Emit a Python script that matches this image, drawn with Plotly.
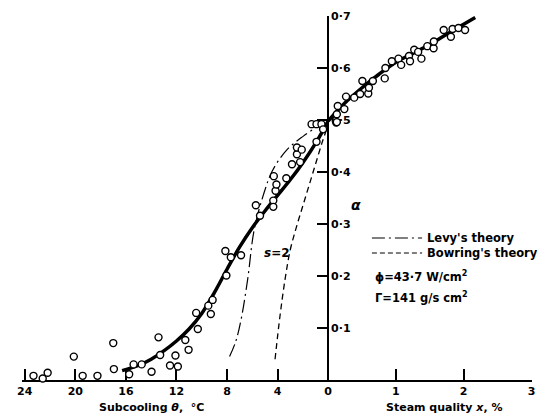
import plotly.graph_objects as go

# ---------------- data ----------------
# subcooled region (x = subcooling theta, degC)
sub_theta = [23.31, 22.58, 22.19, 20.12, 19.42, 18.25, 17.0, 16.95, 15.74, 15.39,
             14.75, 13.97, 13.42, 13.29, 12.51, 12.08, 11.89, 11.30, 11.04, 10.44,
             10.31, 9.48, 9.28, 9.14, 8.05, 8.13, 7.70, 6.89, 5.72, 5.39,
             4.34, 4.34, 4.16, 4.09, 4.30, 3.31, 2.86, 2.22, 2.47, 2.47,
             2.09, 1.31, 0.92, 0.53, 0.40, 0.92]
sub_alpha = [0.008, 0.003, 0.014, 0.045, 0.008, 0.008, 0.071, 0.021, 0.011, 0.030,
             0.030, 0.016, 0.082, 0.048, 0.028, 0.047, 0.026, 0.077, 0.058, 0.129,
             0.098, 0.143, 0.127, 0.154, 0.201, 0.248, 0.236, 0.240, 0.336, 0.316,
             0.345, 0.333, 0.364, 0.376, 0.392, 0.388, 0.415, 0.419, 0.434, 0.447,
             0.443, 0.492, 0.492, 0.492, 0.482, 0.458]

# boiling region (x = steam quality, %)
qual_x = [0.119, 0.128, 0.128, 0.142, 0.239, 0.264, 0.385, 0.472, 0.505, 0.592,
          0.602, 0.660, 0.835, 0.845, 0.940, 1.038, 1.077, 1.193, 1.208, 1.270,
          1.328, 1.376, 1.463, 1.556, 1.560, 1.705, 1.811, 1.836, 1.923, 2.020]
qual_alpha = [0.495, 0.496, 0.511, 0.527, 0.521, 0.545, 0.543, 0.550, 0.575, 0.551,
              0.562, 0.575, 0.580, 0.600, 0.613, 0.618, 0.606, 0.623, 0.613, 0.635,
              0.631, 0.618, 0.642, 0.638, 0.651, 0.673, 0.660, 0.675, 0.677, 0.673]

# fitted curve (s = 2)
fit_sub_theta = [16.3, 15, 14, 13, 12, 11, 10, 9, 8, 7, 6, 5, 4, 3, 2, 1, 0]
fit_sub_alpha = [0.018, 0.028, 0.040, 0.056, 0.075, 0.098, 0.128, 0.168, 0.213,
                 0.256, 0.293, 0.325, 0.355, 0.385, 0.418, 0.455, 0.498]
fit_qual_x = [0, 0.25, 0.5, 0.75, 1.0, 1.25, 1.5, 1.75, 2.0, 2.17]
fit_qual_alpha = [0.498, 0.533, 0.562, 0.588, 0.611, 0.628, 0.645, 0.665, 0.684, 0.697]

# Levy's theory
levy_theta = [7.8, 7.3, 6.89, 6.37, 5.85, 5.07, 4.42, 3.25, 1.96, 0.79, 0.3]
levy_alpha = [0.045, 0.075, 0.116, 0.193, 0.289, 0.360, 0.402, 0.443, 0.469, 0.488, 0.494]

# Bowring's theory
bow_theta = [4.2, 3.8, 3.4, 3.0, 2.5, 2.0, 1.5, 1.0, 0.5, 0.15]
bow_alpha = [0.040, 0.125, 0.195, 0.250, 0.295, 0.335, 0.375, 0.415, 0.455, 0.480]

left_ticks = [24, 20, 16, 12, 8, 4, 0]
right_ticks = [1, 2, 3]
y_ticks = [0.1, 0.2, 0.3, 0.4, 0.5, 0.6, 0.7]
y_ticktext = ["0·1", "0·2", "0·3", "0·4", "0·5", "0·6", "0·7"]

# ---------------- figure ----------------
W, H = 552, 420
MT, MB = 16, 40
PH = H - MT - MB
FONT = "DejaVu Sans"


def px(x):
    return x / W


def py(y):
    return (H - MB - y) / PH


fig = go.Figure()

fig.add_trace(go.Scatter(x=fit_sub_theta, y=fit_sub_alpha, xaxis="x", yaxis="y",
                         mode="lines", line=dict(color="black", width=3.5, shape="spline"),
                         cliponaxis=False, hoverinfo="skip"))
fig.add_trace(go.Scatter(x=fit_qual_x, y=fit_qual_alpha, xaxis="x2", yaxis="y",
                         mode="lines", line=dict(color="black", width=3.5, shape="spline"),
                         cliponaxis=False, hoverinfo="skip"))
fig.add_trace(go.Scatter(x=levy_theta, y=levy_alpha, xaxis="x", yaxis="y",
                         mode="lines", line=dict(color="black", width=1.2, shape="spline",
                                                 dash="13px,4px,2px,4px"),
                         cliponaxis=False))
fig.add_trace(go.Scatter(x=bow_theta, y=bow_alpha, xaxis="x", yaxis="y",
                         mode="lines", line=dict(color="black", width=1.3, shape="spline",
                                                 dash="6px,4px"),
                         cliponaxis=False))

mk = dict(symbol="circle", size=7, color="white", line=dict(color="black", width=1.4))
fig.add_trace(go.Scatter(x=sub_theta, y=sub_alpha, xaxis="x", yaxis="y", mode="markers",
                         marker=mk, cliponaxis=False))
fig.add_trace(go.Scatter(x=qual_x, y=qual_alpha, xaxis="x2", yaxis="y", mode="markers",
                         marker=mk, cliponaxis=False))

tickfont = dict(family=FONT, size=11, color="black", weight="bold")
axis_common = dict(showline=True, linecolor="black", linewidth=1.5, showgrid=False,
                   zeroline=False, tickcolor="black", tickwidth=1.5, tickfont=tickfont,
                   layer="below traces")

x0_px, xmid_px, x1_px = 17, 328.5, 536
fig.update_layout(
    width=W, height=H,
    margin=dict(l=0, r=0, t=MT, b=MB, pad=0),
    paper_bgcolor="white", plot_bgcolor="white",
    showlegend=False,
    xaxis=dict(domain=[px(x0_px), px(xmid_px)], range=[(xmid_px - x0_px) / 12.85, 0],
               tickvals=left_ticks, ticktext=[str(v) for v in left_ticks],
               ticks="inside", ticklen=11, anchor="y", **axis_common),
    xaxis2=dict(domain=[px(xmid_px), px(x1_px)], range=[0, (x1_px - xmid_px) / 68.9],
                tickvals=right_ticks, ticktext=[str(v) for v in right_ticks],
                ticks="inside", ticklen=11, anchor="y", **axis_common),
    yaxis=dict(domain=[0, 1], range=[0, 0.7], anchor="free", position=px(xmid_px),
               side="right", tickvals=y_ticks, ticktext=y_ticktext, ticks="inside",
               ticklen=10, **axis_common),
)

shapes = [
    dict(type="line", xref="paper", yref="paper", x0=px(373), x1=px(424), y0=py(238), y1=py(238),
         line=dict(color="black", width=1.2, dash="13px,4px,2px,4px")),
    dict(type="line", xref="paper", yref="paper", x0=px(373), x1=px(424), y0=py(253), y1=py(253),
         line=dict(color="black", width=1.2, dash="5px,3px")),
]
fig.update_layout(shapes=shapes)


def ann(text, x, y, xanchor="left", size=11):
    return dict(text=text, x=px(x), y=py(y), xref="paper", yref="paper", xanchor=xanchor,
                yanchor="middle", showarrow=False,
                font=dict(family=FONT, size=size, color="black", weight="bold"))


fig.update_layout(annotations=[
    ann("Subcooling <i>θ</i>,  °C", 149, 407, "center"),
    ann("Steam quality <i>x</i>, %", 446, 407, "center"),
    ann("<i>α</i>", 357, 205, "center", 14),
    ann("<i>s</i>=2", 276, 253, "center", 12),
    ann("Levy's theory", 427, 238, size=11.5),
    ann("Bowring's theory", 427, 253, size=11.5),
    ann("ϕ=43·7 W/cm<sup>2</sup>", 374, 276, size=11.5),
    ann("Γ=141 g/s cm<sup>2</sup>", 374, 297, size=11.5),
])

fig.write_html("out.html")
